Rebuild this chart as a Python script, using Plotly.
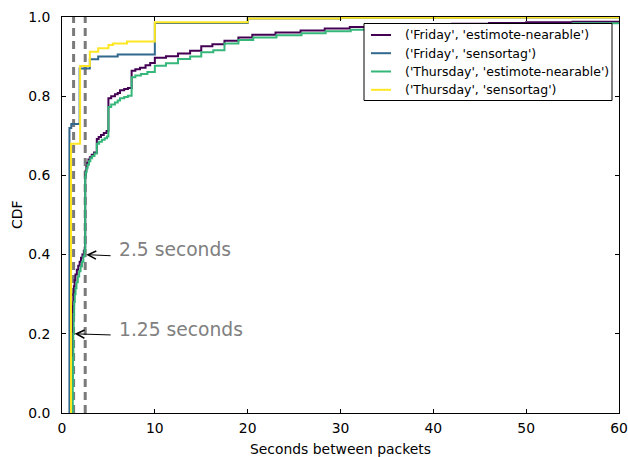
import plotly.graph_objects as go

# ---- data ----
series_names = [
    "('Friday', 'estimote-nearable')",
    "('Friday', 'sensortag')",
    "('Thursday', 'estimote-nearable')",
    "('Thursday', 'sensortag')",
]
series_colors = ["#440154", "#31688e", "#35b779", "#fde725"]

fri_est_x = [1.07, 1.07, 1.10, 1.13, 1.17, 1.22, 1.28, 1.36, 1.45, 1.6, 1.75, 1.9, 2.05, 2.2, 2.35, 2.45,
             2.5, 2.55, 2.62, 2.72, 2.85, 3.0, 3.2, 3.45, 3.75, 3.95, 4.2, 4.5, 4.8,
             5.0, 5.3, 5.7, 6.0, 6.25, 6.7, 7.1, 7.5, 7.9, 8.4, 9.0, 9.5, 10.0, 11.2, 12.5, 13.8,
             15.0, 16.2, 17.5, 19.0, 20.5, 23.0, 25.7, 28.3, 31.0, 34, 38, 42, 46, 50, 55, 60]
fri_est_y = [0.0, 0.08, 0.16, 0.22, 0.27, 0.30, 0.32, 0.335, 0.35, 0.362, 0.372, 0.382, 0.392, 0.40, 0.41, 0.418,
             0.60, 0.612, 0.622, 0.632, 0.64, 0.646, 0.652, 0.658, 0.692, 0.697, 0.702, 0.707, 0.712,
             0.795, 0.800, 0.805, 0.808, 0.815, 0.818, 0.821, 0.864, 0.868, 0.872, 0.878, 0.884, 0.897, 0.901, 0.908, 0.915,
             0.926, 0.931, 0.940, 0.948, 0.955, 0.961, 0.966, 0.971, 0.975, 0.978, 0.981, 0.983, 0.985, 0.987, 0.988, 0.990]

fri_st_x = [0.8, 0.8, 1.0, 1.9, 3.0, 3.9, 6.0, 10.0, 20.0, 30.0, 45.0, 60.0]
fri_st_y = [0.0, 0.72, 0.73, 0.87, 0.893, 0.90, 0.905, 0.985, 0.996, 0.998, 0.999, 1.0]

thu_est_x = [1.16, 1.16, 1.19, 1.22, 1.26, 1.31, 1.38, 1.46, 1.56, 1.7, 1.85, 2.0, 2.15, 2.3, 2.42,
             2.5, 2.56, 2.64, 2.75, 2.9, 3.05, 3.25, 3.5, 3.75, 4.0, 4.3, 4.6, 4.85,
             5.0, 5.3, 5.7, 6.0, 6.25, 6.7, 7.1, 7.5, 7.9, 8.5, 9.2, 10.0, 11.2, 12.5, 13.8,
             15.0, 16.3, 17.5, 19.0, 20.6, 23.1, 25.8, 28.4, 31.1, 34, 38, 42, 46, 50, 55, 60]
thu_est_y = [0.0, 0.07, 0.14, 0.20, 0.25, 0.28, 0.30, 0.315, 0.33, 0.345, 0.358, 0.37, 0.382, 0.395, 0.41,
             0.597, 0.608, 0.618, 0.627, 0.636, 0.643, 0.649, 0.655, 0.680, 0.685, 0.690, 0.694, 0.698,
             0.773, 0.779, 0.784, 0.789, 0.795, 0.798, 0.801, 0.848, 0.852, 0.856, 0.861, 0.877, 0.883, 0.894, 0.90,
             0.911, 0.916, 0.933, 0.942, 0.948, 0.954, 0.959, 0.964, 0.968, 0.972, 0.975, 0.978, 0.980, 0.982, 0.984, 0.986]

thu_st_x = [0.97, 0.97, 1.95, 3.0, 3.9, 5.0, 5.5, 7.0, 10.0, 20.0, 30.0, 45.0, 60.0]
thu_st_y = [0.0, 0.68, 0.876, 0.912, 0.921, 0.929, 0.933, 0.938, 0.987, 0.996, 0.998, 0.999, 1.0]

marker_lines = [1.25, 2.5]
marker_labels = ["1.25 seconds", "2.5 seconds"]
marker_label_y = [0.2, 0.4]

x_ticks = [0, 10, 20, 30, 40, 50, 60]
y_ticks = [0.0, 0.2, 0.4, 0.6, 0.8, 1.0]

FONT = "DejaVu Sans"

# ---- figure ----
fig = go.Figure()

for xv in marker_lines:
    fig.add_trace(go.Scatter(x=[xv, xv], y=[0, 1], mode="lines", showlegend=False, hoverinfo="skip",
                             line=dict(color="#7a7a7a", width=3, dash="8px,5px")))

all_x = [fri_est_x, fri_st_x, thu_est_x, thu_st_x]
all_y = [fri_est_y, fri_st_y, thu_est_y, thu_st_y]
for name, col, xs, ys in zip(series_names, series_colors, all_x, all_y):
    fig.add_trace(go.Scatter(x=xs, y=ys, name=name, mode="lines", line_shape="hv", showlegend=False,
                             line=dict(color=col, width=2)))

# annotations with arrows
for xv, lab, yv in zip(marker_lines, marker_labels, marker_label_y):
    fig.add_annotation(x=xv, y=yv, ax=5.4, ay=yv - 0.003, axref="x", ayref="y", xref="x", yref="y",
                       text="", showarrow=True, arrowhead=5, arrowsize=1.6, arrowwidth=1,
                       arrowcolor="black", standoff=1)
    fig.add_annotation(x=5.95, y=yv + 0.012, xref="x", yref="y", text=lab, showarrow=False,
                       xanchor="left", yanchor="middle",
                       font=dict(family=FONT, size=18.7, color="#808080"))

# legend (drawn in paper coordinates, matplotlib style)
L_M, R_M, T_M, B_M = 62, 9, 17, 44
px_w, px_h = 628.0 - L_M - R_M, 457.0 - T_M - B_M
def pxx(p):
    return (p - L_M) / px_w
def pxy(p):
    return 1 - (p - T_M) / px_h

fig.add_shape(type="rect", xref="paper", yref="paper", x0=pxx(364), x1=pxx(612), y0=pxy(100.5), y1=pxy(23.5),
              line=dict(color="black", width=1), fillcolor="white", layer="above")
row_y = [35, 53.2, 71.5, 89.8]
for name, col, ry in zip(series_names, series_colors, row_y):
    fig.add_shape(type="line", xref="paper", yref="paper", x0=pxx(371), x1=pxx(391), y0=pxy(ry), y1=pxy(ry),
                  line=dict(color=col, width=2), layer="above")
    fig.add_annotation(x=pxx(403), y=pxy(ry), xref="paper", yref="paper", text=name, showarrow=False,
                       xanchor="left", yanchor="middle", font=dict(family=FONT, size=12.5, color="black"))

# y axis title
fig.add_annotation(x=pxx(17), y=0.5, xref="paper", yref="paper", text="CDF", showarrow=False,
                   textangle=-90, xanchor="center", yanchor="middle",
                   font=dict(family=FONT, size=13.9, color="black"))

axis_common = dict(showline=True, linecolor="black", linewidth=1, mirror="ticks", ticks="inside",
                   ticklen=4, tickcolor="black", showgrid=False, zeroline=False, automargin=False,
                   ticklabeloverflow="allow",
                   tickfont=dict(family=FONT, size=13.9, color="black"))

fig.update_xaxes(range=[0, 60], tickvals=x_ticks, ticktext=[str(v) for v in x_ticks],
                 ticklabelstandoff=2,
                 title=dict(text="Seconds between packets", font=dict(family=FONT, size=13.9, color="black")),
                 **axis_common)
fig.update_yaxes(range=[0, 1], tickvals=y_ticks, ticktext=[f"{v:.1f}" for v in y_ticks],
                 ticklabelstandoff=8,
                 **axis_common)

fig.update_layout(
    width=628, height=457,
    margin=dict(l=L_M, r=R_M, t=T_M, b=B_M),
    paper_bgcolor="white", plot_bgcolor="white",
    font=dict(family=FONT, color="black"),
    showlegend=False,
)

fig.write_html("out.html")
